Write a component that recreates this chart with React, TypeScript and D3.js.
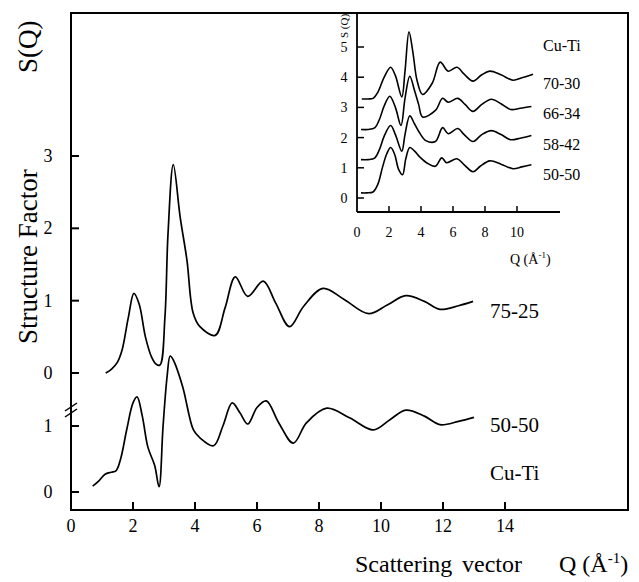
import React from "react";
import * as d3 from "d3";

// ---- main panel data ----
const q7525 = [1.12, 1.3, 1.5, 1.65, 1.85, 2.03, 2.2, 2.4, 2.6, 2.75, 2.87, 3.03, 3.13, 3.3, 3.52, 3.74, 3.94, 4.16, 4.65, 4.97, 5.3, 5.7, 6.2, 6.6, 7.05, 7.5, 8.13, 8.8, 9.6, 10.2, 10.8, 11.4, 11.9, 12.5, 12.97];
const s7525 = [0.0, 0.05, 0.15, 0.32, 0.77, 1.1, 0.95, 0.5, 0.22, 0.12, 0.11, 0.77, 1.93, 2.88, 2.16, 1.56, 0.83, 0.64, 0.52, 0.9, 1.33, 1.06, 1.27, 0.97, 0.64, 0.92, 1.17, 1.02, 0.82, 0.94, 1.07, 0.99, 0.88, 0.93, 0.99];

const q5050 = [0.7, 0.9, 1.1, 1.3, 1.45, 1.6, 1.8, 2.0, 2.13, 2.3, 2.48, 2.7, 2.84, 2.97, 3.1, 3.2, 3.3, 3.6, 3.95, 4.16, 4.6, 4.9, 5.2, 5.45, 5.7, 6.0, 6.3, 6.7, 7.17, 7.6, 8.25, 9.0, 9.75, 10.3, 10.8, 11.4, 11.9, 12.5, 13.0];
const s5050 = [0.09, 0.17, 0.27, 0.3, 0.32, 0.5, 0.95, 1.35, 1.44, 1.15, 0.68, 0.4, 0.08, 1.0, 1.75, 2.06, 2.0, 1.6, 0.94, 0.82, 0.7, 1.0, 1.35, 1.2, 1.03, 1.28, 1.38, 1.05, 0.74, 1.05, 1.27, 1.12, 0.94, 1.1, 1.24, 1.15, 1.02, 1.07, 1.13];

const mainXTicks = [0, 2, 4, 6, 8, 10, 12, 14];
const upperYTicks = [0, 1, 2, 3];
const lowerYTicks = [0, 1];
const mainLabels = ["75-25", "50-50", "Cu-Ti"];

// ---- inset data (absolute, offsets included) ----
const qIn5050 = [0.25, 0.6, 1.0, 1.3, 1.6, 1.85, 2.1, 2.35, 2.6, 2.85, 3.05, 3.3, 3.6, 3.9, 4.4, 4.9, 5.3, 5.6, 6.25, 6.7, 7.25, 7.7, 8.3, 9.0, 9.75, 10.3, 10.9];
const sIn5050 = [0.17, 0.17, 0.2, 0.45, 1.03, 1.45, 1.67, 1.45, 0.95, 0.77, 1.3, 1.67, 1.55, 1.37, 1.15, 1.05, 1.33, 1.17, 1.3, 1.1, 0.87, 1.05, 1.23, 1.12, 0.97, 1.03, 1.1];
const qIn5842 = [0.25, 0.7, 1.1, 1.4, 1.7, 2.1, 2.4, 2.8, 3.0, 3.3, 3.6, 3.9, 4.3, 4.9, 5.35, 5.7, 6.3, 6.7, 7.25, 7.8, 8.4, 9.0, 9.6, 10.2, 10.9];
const sIn5842 = [1.27, 1.27, 1.32, 1.6, 2.05, 2.4, 2.1, 1.55, 2.1, 2.72, 2.45, 2.17, 1.9, 1.87, 2.33, 2.13, 2.3, 2.1, 1.87, 2.1, 2.23, 2.1, 1.93, 1.98, 2.07];
const qIn6634 = [0.25, 0.7, 1.1, 1.4, 1.7, 2.05, 2.4, 2.75, 3.0, 3.3, 3.6, 3.85, 4.1, 4.9, 5.35, 5.7, 6.3, 6.75, 7.25, 7.8, 8.4, 9.0, 9.6, 10.2, 10.9];
const sIn6634 = [2.27, 2.27, 2.32, 2.6, 3.05, 3.37, 3.0, 2.4, 3.3, 4.03, 3.55, 3.1, 2.68, 2.9, 3.3, 3.17, 3.3, 3.1, 2.87, 3.1, 3.27, 3.12, 2.93, 2.97, 3.03];
const qIn7030 = [0.3, 0.7, 1.0, 1.3, 1.7, 2.1, 2.4, 2.8, 3.0, 3.25, 3.5, 3.75, 4.1, 4.7, 5.2, 5.7, 6.25, 6.7, 7.25, 7.8, 8.3, 9.0, 9.75, 10.3, 11.0];
const sIn7030 = [3.28, 3.28, 3.3, 3.5, 4.0, 4.33, 4.05, 3.35, 4.2, 5.5, 4.8, 3.9, 3.43, 3.8, 4.5, 4.2, 4.33, 4.1, 3.87, 4.08, 4.2, 4.08, 3.9, 3.98, 4.1];

const insetXTicks = [0, 2, 4, 6, 8, 10];
const insetYTicks = [0, 1, 2, 3, 4, 5];
const insetLabels = ["Cu-Ti", "70-30", "66-34", "58-42", "50-50"];

const FONT = "'Liberation Serif', 'Times New Roman', serif";

export default function App() {
  // main scales
  const x = d3.scaleLinear().domain([0, 14]).range([71, 505]);
  const yUp = d3.scaleLinear().domain([0, 3]).range([373, 156]);
  const yLo = d3.scaleLinear().domain([0, 1]).range([492, 426]);
  // inset scales
  const xi = d3.scaleLinear().domain([0, 10]).range([357, 517]);
  const yi = d3.scaleLinear().domain([0, 5]).range([198, 47]);

  const mk = (xs: d3.ScaleLinear<number, number>, ys: d3.ScaleLinear<number, number>, qs: number[], ss: number[]) =>
    d3
      .line<number>()
      .x((_, i) => xs(qs[i]))
      .y((d) => ys(d))
      .curve(d3.curveCatmullRom.alpha(0.5))(ss) || "";

  const left = 71, right = 628, top = 13, bottom = 510;
  const inLeft = 357, inBottom = 212, inRight = 560;

  const insetSeries: [number[], number[]][] = [
    [qIn7030, sIn7030],
    [qIn6634, sIn6634],
    [qIn5842, sIn5842],
    [qIn5050, sIn5050],
  ];
  const insetLabelY = [51, 89, 119, 150, 180];

  return (
    <svg width={639} height={582} style={{ position: "absolute", left: 0, top: 0, background: "#fff" }} fontFamily={FONT}>
      <rect x={0} y={0} width={639} height={582} fill="#fff" />
      {/* main frame */}
      <rect x={left} y={top} width={right - left} height={bottom - top} fill="none" stroke="#000" strokeWidth={2} />
      {/* x ticks */}
      {mainXTicks.map((t) => (
        <g key={"mx" + t}>
          {t > 0 && <line x1={x(t)} x2={x(t)} y1={bottom} y2={bottom - 8} stroke="#000" strokeWidth={2} />}
          <text x={x(t)} y={532} fontSize={18} textAnchor="middle">{t}</text>
        </g>
      ))}
      {/* upper y ticks */}
      {upperYTicks.map((t) => (
        <g key={"uy" + t}>
          <line x1={left} x2={left + 8} y1={yUp(t)} y2={yUp(t)} stroke="#000" strokeWidth={2} />
          <text x={48} y={yUp(t) + 6} fontSize={18} textAnchor="middle">{t}</text>
        </g>
      ))}
      {lowerYTicks.map((t) => (
        <g key={"ly" + t}>
          <line x1={left} x2={left + 8} y1={yLo(t)} y2={yLo(t)} stroke="#000" strokeWidth={2} />
          <text x={48} y={yLo(t) + 6} fontSize={18} textAnchor="middle">{t}</text>
        </g>
      ))}
      {/* axis break */}
      <line x1={65} y1={411} x2={77} y2={403} stroke="#000" strokeWidth={1.5} />
      <line x1={65} y1={417} x2={77} y2={409} stroke="#000" strokeWidth={1.5} />

      {/* main curves */}
      <path d={mk(x, yUp, q7525, s7525)} fill="none" stroke="#000" strokeWidth={1.7} />
      <path d={mk(x, yLo, q5050, s5050)} fill="none" stroke="#000" strokeWidth={1.7} />

      <text x={490} y={318} fontSize={21}>{mainLabels[0]}</text>
      <text x={490} y={432} fontSize={21}>{mainLabels[1]}</text>
      <text x={490} y={480} fontSize={21}>{mainLabels[2]}</text>

      {/* axis titles */}
      <text transform="translate(37,344) rotate(-90)" fontSize={27}>Structure Factor</text>
      <text transform="translate(37,73) rotate(-90)" fontSize={27}>S(Q)</text>
      <text x={355} y={572} fontSize={24}>Scattering</text>
      <text x={522} y={572} fontSize={24} textAnchor="end">vector</text>
      <text x={559} y={572} fontSize={24}>
        Q (Å<tspan dy={-9} fontSize={15}>-1</tspan><tspan dy={9}>)</tspan>
      </text>

      {/* inset axes */}
      <line x1={inLeft} x2={inLeft} y1={top} y2={inBottom} stroke="#000" strokeWidth={1.8} />
      <line x1={inLeft} x2={inRight} y1={inBottom} y2={inBottom} stroke="#000" strokeWidth={1.8} />
      {insetXTicks.map((t) => (
        <g key={"ix" + t}>
          {t > 0 && <line x1={xi(t)} x2={xi(t)} y1={inBottom} y2={inBottom - 6} stroke="#000" strokeWidth={1.5} />}
          <text x={xi(t)} y={237} fontSize={14} textAnchor="middle">{t}</text>
        </g>
      ))}
      {insetYTicks.map((t) => (
        <g key={"iy" + t}>
          <line x1={inLeft} x2={inLeft + 7} y1={yi(t)} y2={yi(t)} stroke="#000" strokeWidth={1.5} />
          <text x={344} y={yi(t) + 5} fontSize={14} textAnchor="middle">{t}</text>
        </g>
      ))}
      <text transform="translate(348,38) rotate(-90)" fontSize={11}>S (Q)</text>
      <text x={510} y={264} fontSize={14}>
        Q  (Å<tspan dy={-6} fontSize={9}>-1</tspan><tspan dy={6}>)</tspan>
      </text>
      {insetSeries.map(([qs, ss], i) => (
        <path key={"is" + i} d={mk(xi, yi, qs, ss)} fill="none" stroke="#000" strokeWidth={1.6} />
      ))}
      {insetLabels.map((l, i) => (
        <text key={l} x={543} y={insetLabelY[i]} fontSize={16}>{l}</text>
      ))}
    </svg>
  );
}
